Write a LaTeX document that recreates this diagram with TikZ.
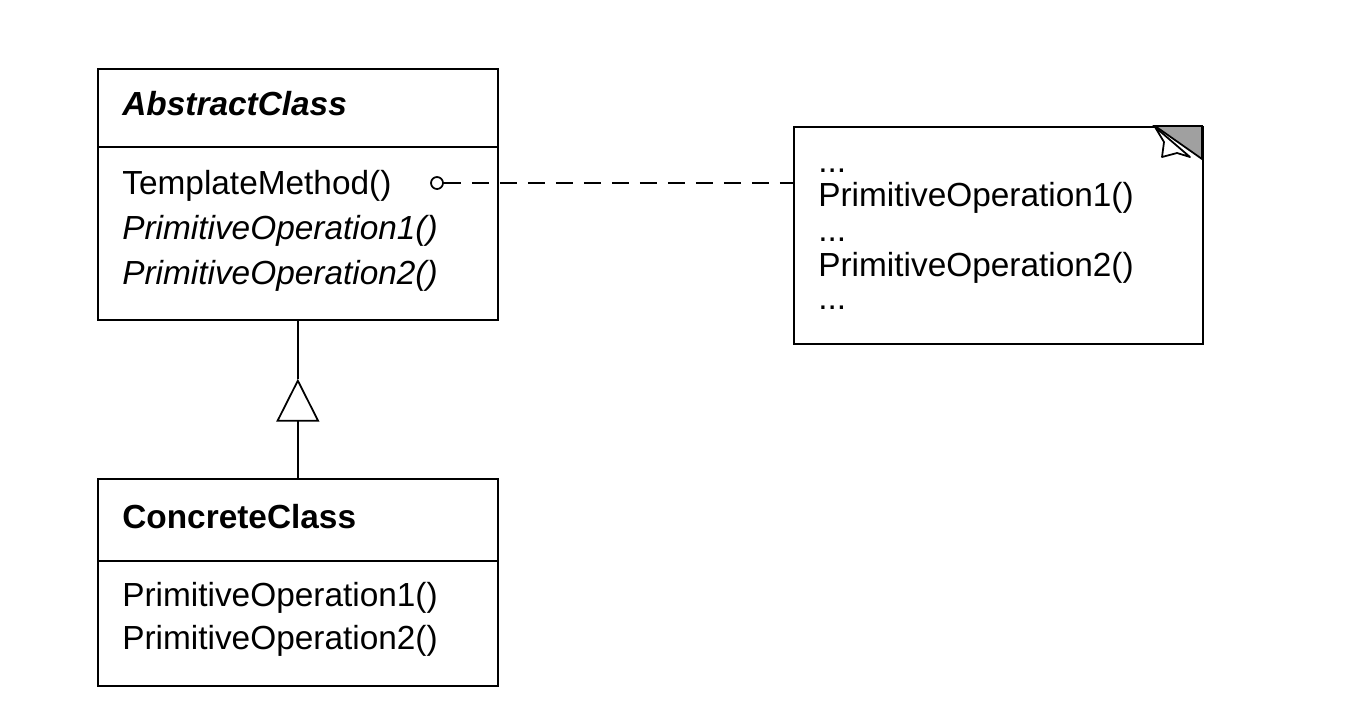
\documentclass[tikz,border=0pt]{standalone}
\usepackage{fontspec}
\setmainfont{Liberation Sans}
\usepackage{tikz}
\usetikzlibrary{arrows.meta,positioning}
\definecolor{FoldGray}{RGB}{160,160,160}

\begin{document}
\begin{tikzpicture}[
  x=0.02cm,y=-0.02cm,
  box/.style={draw,line width=1pt,inner sep=0pt,minimum width=8cm,anchor=north west},
  txt/.style={anchor=west,inner sep=0pt,font=\fontsize{19}{23}\selectfont},
  link/.style={line width=1pt}
]
  \useasboundingbox (0,0) rectangle (1351,717);
  % abstract class
  \node[box,minimum height=1.56cm] (ahead) at (97,68) {};
  \node[box,minimum height=3.46cm,below=-1pt of ahead] (abody) {};
  \node[txt,font=\fontsize{19}{23}\selectfont\bfseries\itshape] (aname) at (122,104) {AbstractClass};
  \node[txt] (tmpl) at (122,186) {TemplateMethod()};
  \node[txt,font=\fontsize{19}{23}\selectfont\itshape] (aop1) at (122,231) {PrimitiveOperation1()};
  \node[txt,font=\fontsize{19}{23}\selectfont\itshape] (aop2) at (122,276) {PrimitiveOperation2()};
  % concrete class
  \node[box,minimum height=1.64cm] (chead) at (97,478) {};
  \node[box,minimum height=2.5cm,below=-1pt of chead] (cbody) {};
  \node[txt,font=\fontsize{19}{23}\selectfont\bfseries] (cname) at (122,517) {ConcreteClass};
  \node[txt] (cop1) at (122,598) {PrimitiveOperation1()};
  \node[txt] (cop2) at (122,641) {PrimitiveOperation2()};
  % inheritance
  \coordinate[below=1.16cm of abody.south] (tip);
  \draw[link,-{Triangle[open,length=0.86cm,width=0.86cm,line width=1pt]}] (chead.north) -- (tip);
  \draw[link] (tip) -- (abody.south);
  % note
  \node[box,minimum width=8.18cm,minimum height=4.34cm] (note) at (793,126) {};
  \node[txt] (ndots1) at (818,171) {...};
  \node[txt] (nop1) at (818,198) {PrimitiveOperation1()};
  \node[txt] (ndots2) at (818,240) {...};
  \node[txt] (nop2) at (818,268) {PrimitiveOperation2()};
  \node[txt] (ndots3) at (818,308) {...};
  \fill[FoldGray,draw=black,line width=1pt] (1155,126) -- (1202,126) -- (1202,159) -- cycle;
  \draw[fill=white,line width=1pt,line join=round] (1155,127) -- (1164,142) -- (1162,157) -- (1177,153) -- (1190,157) -- cycle;
  % note link
  \node[circle,draw,line width=1pt,inner sep=0pt,minimum size=0.24cm] (dot) at (437,183) {};
  \draw[link,dash pattern=on 0.34cm off 0.22cm] (dot) -- (dot -| note.west);
\end{tikzpicture}
\end{document}
